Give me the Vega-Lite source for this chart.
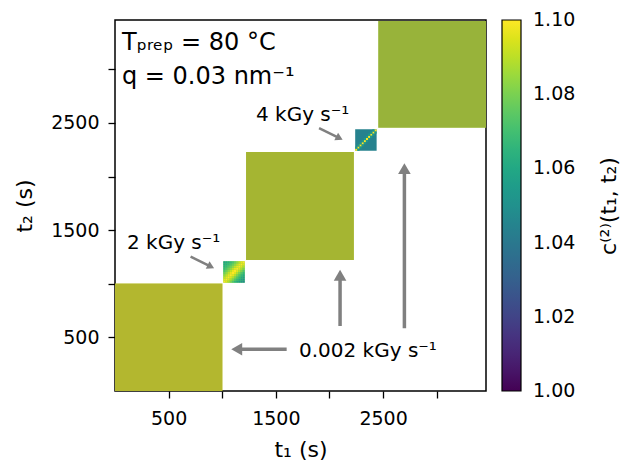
{
  "$schema": "https://vega.github.io/schema/vega-lite/v6.json",
  "width": 371,
  "height": 371,
  "autosize": {"type": "none"},
  "padding": {"left": 115, "top": 20, "right": 142, "bottom": 74},
  "background": "white",
  "config": {
    "font": "DejaVu Sans",
    "view": {"stroke": "black", "strokeWidth": 1.5},
    "axis": {"grid": false, "domain": false, "tickColor": "black", "tickWidth": 1.3, "tickSize": 7, "labelColor": "black", "labelFontSize": 19, "labelFont": "DejaVu Sans", "titleFont": "DejaVu Sans", "titleFontSize": 22, "titleFontWeight": "normal", "titleColor": "black"}
  },
  "datasets": {
    "blocks": [
      {"x": 0, "x2": 1002, "y": 0, "y2": 1002, "c": 1.095},
      {"x": 1222, "x2": 2228, "y": 1222, "y2": 2228, "c": 1.092},
      {"x": 2455, "x2": 3460, "y": 2455, "y2": 3450, "c": 1.089}
    ],
    "smallBase": [
      {"x": 1010, "x2": 1210, "y": 1010, "y2": 1210, "c": 1.078},
      {"x": 2240, "x2": 2440, "y": 2240, "y2": 2440, "c": 1.044}
    ],
    "cells": [
      {"x":1010,"x2":1030,"y":1010,"y2":1030,"c":1.100},{"x":1030,"x2":1050,"y":1010,"y2":1030,"c":1.096},{"x":1050,"x2":1070,"y":1010,"y2":1030,"c":1.089},{"x":1070,"x2":1090,"y":1010,"y2":1030,"c":1.081},{"x":1090,"x2":1110,"y":1010,"y2":1030,"c":1.073},{"x":1110,"x2":1130,"y":1010,"y2":1030,"c":1.066},{"x":1130,"x2":1150,"y":1010,"y2":1030,"c":1.060},{"x":1150,"x2":1170,"y":1010,"y2":1030,"c":1.055},{"x":1170,"x2":1190,"y":1010,"y2":1030,"c":1.051},{"x":1190,"x2":1210,"y":1010,"y2":1030,"c":1.048},
      {"x":1010,"x2":1030,"y":1030,"y2":1050,"c":1.097},{"x":1030,"x2":1050,"y":1030,"y2":1050,"c":1.100},{"x":1050,"x2":1070,"y":1030,"y2":1050,"c":1.096},{"x":1070,"x2":1090,"y":1030,"y2":1050,"c":1.089},{"x":1090,"x2":1110,"y":1030,"y2":1050,"c":1.081},{"x":1110,"x2":1130,"y":1030,"y2":1050,"c":1.073},{"x":1130,"x2":1150,"y":1030,"y2":1050,"c":1.066},{"x":1150,"x2":1170,"y":1030,"y2":1050,"c":1.060},{"x":1170,"x2":1190,"y":1030,"y2":1050,"c":1.055},{"x":1190,"x2":1210,"y":1030,"y2":1050,"c":1.051},
      {"x":1010,"x2":1030,"y":1050,"y2":1070,"c":1.091},{"x":1030,"x2":1050,"y":1050,"y2":1070,"c":1.097},{"x":1050,"x2":1070,"y":1050,"y2":1070,"c":1.100},{"x":1070,"x2":1090,"y":1050,"y2":1070,"c":1.096},{"x":1090,"x2":1110,"y":1050,"y2":1070,"c":1.089},{"x":1110,"x2":1130,"y":1050,"y2":1070,"c":1.081},{"x":1130,"x2":1150,"y":1050,"y2":1070,"c":1.073},{"x":1150,"x2":1170,"y":1050,"y2":1070,"c":1.066},{"x":1170,"x2":1190,"y":1050,"y2":1070,"c":1.060},{"x":1190,"x2":1210,"y":1050,"y2":1070,"c":1.055},
      {"x":1010,"x2":1030,"y":1070,"y2":1090,"c":1.084},{"x":1030,"x2":1050,"y":1070,"y2":1090,"c":1.091},{"x":1050,"x2":1070,"y":1070,"y2":1090,"c":1.097},{"x":1070,"x2":1090,"y":1070,"y2":1090,"c":1.100},{"x":1090,"x2":1110,"y":1070,"y2":1090,"c":1.096},{"x":1110,"x2":1130,"y":1070,"y2":1090,"c":1.089},{"x":1130,"x2":1150,"y":1070,"y2":1090,"c":1.081},{"x":1150,"x2":1170,"y":1070,"y2":1090,"c":1.073},{"x":1170,"x2":1190,"y":1070,"y2":1090,"c":1.066},{"x":1190,"x2":1210,"y":1070,"y2":1090,"c":1.060},
      {"x":1010,"x2":1030,"y":1090,"y2":1110,"c":1.078},{"x":1030,"x2":1050,"y":1090,"y2":1110,"c":1.084},{"x":1050,"x2":1070,"y":1090,"y2":1110,"c":1.091},{"x":1070,"x2":1090,"y":1090,"y2":1110,"c":1.097},{"x":1090,"x2":1110,"y":1090,"y2":1110,"c":1.100},{"x":1110,"x2":1130,"y":1090,"y2":1110,"c":1.096},{"x":1130,"x2":1150,"y":1090,"y2":1110,"c":1.089},{"x":1150,"x2":1170,"y":1090,"y2":1110,"c":1.081},{"x":1170,"x2":1190,"y":1090,"y2":1110,"c":1.073},{"x":1190,"x2":1210,"y":1090,"y2":1110,"c":1.066},
      {"x":1010,"x2":1030,"y":1110,"y2":1130,"c":1.072},{"x":1030,"x2":1050,"y":1110,"y2":1130,"c":1.078},{"x":1050,"x2":1070,"y":1110,"y2":1130,"c":1.084},{"x":1070,"x2":1090,"y":1110,"y2":1130,"c":1.091},{"x":1090,"x2":1110,"y":1110,"y2":1130,"c":1.097},{"x":1110,"x2":1130,"y":1110,"y2":1130,"c":1.100},{"x":1130,"x2":1150,"y":1110,"y2":1130,"c":1.096},{"x":1150,"x2":1170,"y":1110,"y2":1130,"c":1.089},{"x":1170,"x2":1190,"y":1110,"y2":1130,"c":1.081},{"x":1190,"x2":1210,"y":1110,"y2":1130,"c":1.073},
      {"x":1010,"x2":1030,"y":1130,"y2":1150,"c":1.067},{"x":1030,"x2":1050,"y":1130,"y2":1150,"c":1.072},{"x":1050,"x2":1070,"y":1130,"y2":1150,"c":1.078},{"x":1070,"x2":1090,"y":1130,"y2":1150,"c":1.084},{"x":1090,"x2":1110,"y":1130,"y2":1150,"c":1.091},{"x":1110,"x2":1130,"y":1130,"y2":1150,"c":1.097},{"x":1130,"x2":1150,"y":1130,"y2":1150,"c":1.100},{"x":1150,"x2":1170,"y":1130,"y2":1150,"c":1.096},{"x":1170,"x2":1190,"y":1130,"y2":1150,"c":1.089},{"x":1190,"x2":1210,"y":1130,"y2":1150,"c":1.081},
      {"x":1010,"x2":1030,"y":1150,"y2":1170,"c":1.063},{"x":1030,"x2":1050,"y":1150,"y2":1170,"c":1.067},{"x":1050,"x2":1070,"y":1150,"y2":1170,"c":1.072},{"x":1070,"x2":1090,"y":1150,"y2":1170,"c":1.078},{"x":1090,"x2":1110,"y":1150,"y2":1170,"c":1.084},{"x":1110,"x2":1130,"y":1150,"y2":1170,"c":1.091},{"x":1130,"x2":1150,"y":1150,"y2":1170,"c":1.097},{"x":1150,"x2":1170,"y":1150,"y2":1170,"c":1.100},{"x":1170,"x2":1190,"y":1150,"y2":1170,"c":1.096},{"x":1190,"x2":1210,"y":1150,"y2":1170,"c":1.089},
      {"x":1010,"x2":1030,"y":1170,"y2":1190,"c":1.060},{"x":1030,"x2":1050,"y":1170,"y2":1190,"c":1.063},{"x":1050,"x2":1070,"y":1170,"y2":1190,"c":1.067},{"x":1070,"x2":1090,"y":1170,"y2":1190,"c":1.072},{"x":1090,"x2":1110,"y":1170,"y2":1190,"c":1.078},{"x":1110,"x2":1130,"y":1170,"y2":1190,"c":1.084},{"x":1130,"x2":1150,"y":1170,"y2":1190,"c":1.091},{"x":1150,"x2":1170,"y":1170,"y2":1190,"c":1.097},{"x":1170,"x2":1190,"y":1170,"y2":1190,"c":1.100},{"x":1190,"x2":1210,"y":1170,"y2":1190,"c":1.096},
      {"x":1010,"x2":1030,"y":1190,"y2":1210,"c":1.057},{"x":1030,"x2":1050,"y":1190,"y2":1210,"c":1.060},{"x":1050,"x2":1070,"y":1190,"y2":1210,"c":1.063},{"x":1070,"x2":1090,"y":1190,"y2":1210,"c":1.067},{"x":1090,"x2":1110,"y":1190,"y2":1210,"c":1.072},{"x":1110,"x2":1130,"y":1190,"y2":1210,"c":1.078},{"x":1130,"x2":1150,"y":1190,"y2":1210,"c":1.084},{"x":1150,"x2":1170,"y":1190,"y2":1210,"c":1.091},{"x":1170,"x2":1190,"y":1190,"y2":1210,"c":1.097},{"x":1190,"x2":1210,"y":1190,"y2":1210,"c":1.100},
      {"x":2240,"x2":2260,"y":2240,"y2":2260,"c":1.100},{"x":2260,"x2":2280,"y":2260,"y2":2280,"c":1.100},{"x":2280,"x2":2300,"y":2280,"y2":2300,"c":1.100},{"x":2300,"x2":2320,"y":2300,"y2":2320,"c":1.100},{"x":2320,"x2":2340,"y":2320,"y2":2340,"c":1.100},{"x":2340,"x2":2360,"y":2340,"y2":2360,"c":1.100},{"x":2360,"x2":2380,"y":2360,"y2":2380,"c":1.100},{"x":2380,"x2":2400,"y":2380,"y2":2400,"c":1.100},{"x":2400,"x2":2420,"y":2400,"y2":2420,"c":1.100},{"x":2420,"x2":2440,"y":2420,"y2":2440,"c":1.100},
      {"x":2260,"x2":2280,"y":2240,"y2":2260,"c":1.054},{"x":2280,"x2":2300,"y":2260,"y2":2280,"c":1.054},{"x":2300,"x2":2320,"y":2280,"y2":2300,"c":1.054},{"x":2320,"x2":2340,"y":2300,"y2":2320,"c":1.054},{"x":2340,"x2":2360,"y":2320,"y2":2340,"c":1.054},{"x":2360,"x2":2380,"y":2340,"y2":2360,"c":1.054},{"x":2380,"x2":2400,"y":2360,"y2":2380,"c":1.054},{"x":2400,"x2":2420,"y":2380,"y2":2400,"c":1.054},{"x":2420,"x2":2440,"y":2400,"y2":2420,"c":1.054},
      {"x":2240,"x2":2260,"y":2260,"y2":2280,"c":1.054},{"x":2260,"x2":2280,"y":2280,"y2":2300,"c":1.054},{"x":2280,"x2":2300,"y":2300,"y2":2320,"c":1.054},{"x":2300,"x2":2320,"y":2320,"y2":2340,"c":1.054},{"x":2320,"x2":2340,"y":2340,"y2":2360,"c":1.054},{"x":2340,"x2":2360,"y":2360,"y2":2380,"c":1.054},{"x":2360,"x2":2380,"y":2380,"y2":2400,"c":1.054},{"x":2380,"x2":2400,"y":2400,"y2":2420,"c":1.054},{"x":2400,"x2":2420,"y":2420,"y2":2440,"c":1.054}
    ],
    "arrowsUp": [
      {"x": 2099, "y": 606, "x2": 2099, "y2": 1079},
      {"x": 2699, "y": 585, "x2": 2699, "y2": 2074}
    ],
    "arrowsLeft": [
      {"x": 1601, "y": 389, "x2": 1135, "y2": 389}
    ],
    "arrowsDiag": [
      {"x": 705, "y": 1253, "x2": 894, "y2": 1159},
      {"x": 1903, "y": 2451, "x2": 2093, "y2": 2358}
    ],
    "bigText": [
      {"x": 65, "y": 3181, "label": "Tₚᵣₑₚ = 80 °C"},
      {"x": 65, "y": 2864, "label": "q = 0.03 nm⁻¹"}
    ],
    "smallText": [
      {"x": 112, "y": 1325, "label": "2 kGy s⁻¹"},
      {"x": 1315, "y": 2519, "label": "4 kGy s⁻¹"},
      {"x": 1716, "y": 317, "label": "0.002 kGy s⁻¹"}
    ]
  },
  "encoding": {
    "x": {
      "field": "x", "type": "quantitative", "title": "t₁ (s)",
      "scale": {"domain": [0, 3460], "nice": false, "zero": false},
      "axis": {"values": [500, 1000, 1500, 2000, 2500, 3000], "labelExpr": "datum.value % 1000 === 500 ? format(datum.value, 'd') : ''", "labelPadding": 11, "titlePadding": 11}
    },
    "y": {
      "field": "y", "type": "quantitative", "title": "t₂ (s)",
      "scale": {"domain": [0, 3460], "nice": false, "zero": false},
      "axis": {"values": [500, 1000, 1500, 2000, 2500, 3000], "labelExpr": "datum.value % 1000 === 500 ? format(datum.value, 'd') : ''", "labelPadding": 9, "titlePadding": 14}
    }
  },
  "layer": [
    {
      "data": {"name": "blocks"},
      "mark": {"type": "rect", "stroke": null},
      "encoding": {
        "x2": {"field": "x2"},
        "y2": {"field": "y2"},
        "color": {
          "field": "c", "type": "quantitative",
          "scale": {"scheme": "viridis", "domain": [1.0, 1.1], "clamp": true},
          "legend": {
            "orient": "right", "offset": 16, "direction": "vertical",
            "gradientLength": 371, "gradientThickness": 19,
            "gradientStrokeColor": "black", "gradientStrokeWidth": 1.2,
            "values": [1.0, 1.02, 1.04, 1.06, 1.08, 1.1], "format": ".2f",
            "labelFontSize": 19, "labelColor": "black", "labelOffset": 12, "labelFont": "DejaVu Sans",
            "title": "c⁽²⁾(t₁, t₂)", "titleOrient": "right", "titleAnchor": "middle",
            "titleFontSize": 22, "titleFontWeight": "normal", "titleColor": "black", "titleFont": "DejaVu Sans", "titlePadding": 24,
            "encode": {
              "title": {"update": {"angle": {"value": -90}, "baseline": {"value": "top"}}},
              "labels": {"update": {"baseline": {"value": "middle"}}}
            }
          }
        }
      }
    },
    {
      "data": {"name": "blocks"},
      "mark": {"type": "rect", "fill": "#5a5a5a", "opacity": 0.32},
      "encoding": {"x2": {"field": "x2"}, "y2": {"field": "y2"}}
    },
    {
      "data": {"name": "smallBase"},
      "mark": {"type": "rect", "stroke": null},
      "encoding": {
        "x2": {"field": "x2"},
        "y2": {"field": "y2"},
        "color": {"field": "c", "type": "quantitative"}
      }
    },
    {
      "data": {"name": "cells"},
      "mark": {"type": "rect", "stroke": null},
      "encoding": {
        "x2": {"field": "x2"},
        "y2": {"field": "y2"},
        "color": {"field": "c", "type": "quantitative"}
      }
    },
    {
      "data": {"name": "arrowsUp"},
      "mark": {"type": "rule", "color": "#808080", "strokeWidth": 3.5},
      "encoding": {"x2": {"field": "x2"}, "y2": {"field": "y2"}}
    },
    {
      "data": {"name": "arrowsUp"},
      "mark": {"type": "point", "shape": "triangle-up", "filled": true, "color": "#808080", "opacity": 1, "size": 160},
      "encoding": {
        "x": {"field": "x2", "type": "quantitative", "title": "t₁ (s)"},
        "y": {"field": "y2", "type": "quantitative", "title": "t₂ (s)"}
      }
    },
    {
      "data": {"name": "arrowsLeft"},
      "mark": {"type": "rule", "color": "#808080", "strokeWidth": 3.5},
      "encoding": {"x2": {"field": "x2"}, "y2": {"field": "y2"}}
    },
    {
      "data": {"name": "arrowsLeft"},
      "mark": {"type": "point", "shape": "triangle-left", "filled": true, "color": "#808080", "opacity": 1, "size": 160},
      "encoding": {
        "x": {"field": "x2", "type": "quantitative", "title": "t₁ (s)"},
        "y": {"field": "y2", "type": "quantitative", "title": "t₂ (s)"}
      }
    },
    {
      "data": {"name": "arrowsDiag"},
      "mark": {"type": "rule", "color": "#808080", "strokeWidth": 2.5},
      "encoding": {"x2": {"field": "x2"}, "y2": {"field": "y2"}}
    },
    {
      "data": {"name": "arrowsDiag"},
      "mark": {"type": "point", "shape": "triangle-up", "angle": 117, "filled": true, "color": "#808080", "opacity": 1, "size": 70},
      "encoding": {
        "x": {"field": "x2", "type": "quantitative", "title": "t₁ (s)"},
        "y": {"field": "y2", "type": "quantitative", "title": "t₂ (s)"}
      }
    },
    {
      "data": {"name": "bigText"},
      "mark": {"type": "text", "align": "left", "baseline": "alphabetic", "fontSize": 24, "font": "DejaVu Sans", "color": "black"},
      "encoding": {"text": {"field": "label"}}
    },
    {
      "data": {"name": "smallText"},
      "mark": {"type": "text", "align": "left", "baseline": "alphabetic", "fontSize": 20, "font": "DejaVu Sans", "color": "black"},
      "encoding": {"text": {"field": "label"}}
    }
  ]
}
